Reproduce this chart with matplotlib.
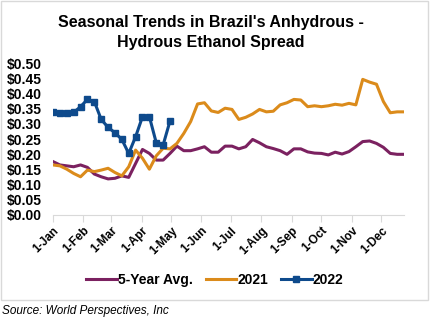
import matplotlib.pyplot as plt
from matplotlib.patches import Rectangle

plt.rcParams['font.family'] = ['Liberation Sans', 'DejaVu Sans']

# weekly values, starting 1-Jan
avg5 = [0.176, 0.165, 0.162, 0.159, 0.165, 0.157, 0.135, 0.126, 0.119, 0.121,
        0.129, 0.124, 0.170, 0.216, 0.203, 0.181, 0.181, 0.203, 0.227, 0.212,
        0.212, 0.218, 0.225, 0.207, 0.207, 0.227, 0.227, 0.218, 0.225, 0.249,
        0.238, 0.225, 0.219, 0.212, 0.200, 0.218, 0.218, 0.208, 0.204, 0.203,
        0.198, 0.207, 0.201, 0.209, 0.225, 0.242, 0.244, 0.236, 0.223, 0.203,
        0.200, 0.200]
y2021 = [0.165, 0.162, 0.151, 0.137, 0.126, 0.148, 0.143, 0.148, 0.154, 0.140,
         0.129, 0.159, 0.214, 0.187, 0.151, 0.195, 0.220, 0.218, 0.236, 0.269,
         0.308, 0.366, 0.370, 0.343, 0.338, 0.352, 0.348, 0.315, 0.322, 0.333,
         0.348, 0.340, 0.342, 0.363, 0.370, 0.381, 0.379, 0.357, 0.360, 0.357,
         0.360, 0.365, 0.362, 0.368, 0.363, 0.447, 0.438, 0.431, 0.374, 0.337,
         0.340, 0.340]
y2022 = [0.341, 0.335, 0.335, 0.338, 0.357, 0.381, 0.374, 0.315, 0.289, 0.271,
         0.249, 0.203, 0.258, 0.324, 0.324, 0.238, 0.231, 0.310]

month_days = [0, 31, 59, 90, 120, 151, 181, 212, 243, 273, 304, 334]
month_labels = ['1-Jan', '1-Feb', '1-Mar', '1-Apr', '1-May', '1-Jun',
                '1-Jul', '1-Aug', '1-Sep', '1-Oct', '1-Nov', '1-Dec']
yticks = [0.0, 0.05, 0.10, 0.15, 0.20, 0.25, 0.30, 0.35, 0.40, 0.45, 0.50]

days = [7 * i for i in range(len(avg5))]
days22 = [7 * i for i in range(len(y2022))]

fig = plt.figure(figsize=(4.3, 3.22), dpi=100)
fig.patches.append(Rectangle((0.002, 0.068), 0.994, 0.929, transform=fig.transFigure,
                             fill=False, edgecolor='#D9D9D9', linewidth=1))
ax = fig.add_axes([0.1233, 0.3323, 0.8163, 0.4711])

ax.plot(days, avg5, color='#7B2160', linewidth=2.2, label='5-Year Avg.')
ax.plot(days, y2021, color='#DB8B1B', linewidth=2.2, label='2021')
ax.plot(days22, y2022, color='#0E4A8C', linewidth=2.2, marker='s',
        markersize=4.5, label='2022')

ax.set_xlim(0, days[-1])
ax.set_ylim(0, 0.5)
ax.set_yticks(yticks)
ax.set_yticklabels(['$%.2f' % v for v in yticks], fontsize=10, fontweight='bold')
ax.set_xticks(month_days)
ax.set_xticklabels(month_labels, fontsize=8.5, fontweight='bold', rotation=45,
                   ha='right', va='top', rotation_mode='anchor')
ax.tick_params(axis='y', length=0, pad=8)
ax.tick_params(axis='x', length=5, color='#D9D9D9', pad=2)
for s in ['top', 'right', 'left']:
    ax.spines[s].set_visible(False)
ax.spines['bottom'].set_color('#D9D9D9')

fig.text(0.49, 0.9, "Seasonal Trends in Brazil's Anhydrous -\nHydrous Ethanol Spread",
         ha='center', va='center', fontsize=11.5, fontweight='bold', linespacing=1.4)

fig.legend(loc='center', bbox_to_anchor=(0.5, 0.13), ncol=3, frameon=False,
           prop={'size': 10, 'weight': 'bold'}, handlelength=2.2,
           handletextpad=0.1, columnspacing=0.9)

fig.text(0.005, 0.034, 'Source: World Perspectives, Inc', ha='left', va='center',
         fontsize=8.5, style='italic')

fig.savefig('out.png', dpi=100)
